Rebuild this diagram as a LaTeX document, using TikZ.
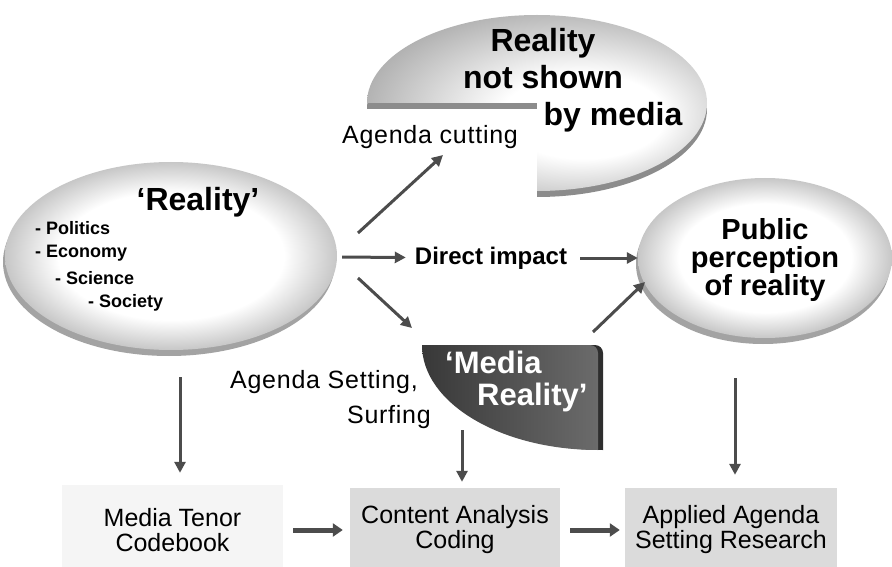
\documentclass[tikz,border=0pt]{standalone}
\usepackage{fontspec}
\setmainfont{Liberation Sans}
\newfontfamily\spaced[LetterSpace=3]{Liberation Sans}
\usetikzlibrary{positioning}
\usetikzlibrary{shapes.geometric,shadows}
\usetikzlibrary{arrows.meta}

% white inside, grey towards the border
\pgfdeclareradialshading{rim}{\pgfpoint{0bp}{0bp}}{color(0bp)=(white); color(17bp)=(white); color(25bp)=(black!22); color(50bp)=(black!22)}
\pgfdeclareradialshading{piefill}{\pgfpoint{9bp}{-5bp}}{color(0bp)=(white); color(12bp)=(white); color(32bp)=(black!35); color(50bp)=(black!35)}

\tikzset{
  flow/.style={->, >={Triangle[length=11pt,width=11pt]}, line width=3pt, draw=black!70},
  fatflow/.style={flow, line width=5pt, >={Triangle[length=10pt,width=13pt]}},
  world/.style={ellipse, shade, shading=rim, inner sep=0,
    drop shadow={shadow xshift=-2pt, shadow yshift=-6pt, fill=black!60, opacity=.6}},
  title/.style={font=\fontsize{32}{37}\selectfont\bfseries, align=center, inner sep=0},
  topic/.style={font=\fontsize{18}{20}\selectfont\bfseries, anchor=west, inner sep=0},
  note/.style={font=\fontsize{25}{35}\selectfont\spaced, inner sep=1pt},
  stage/.style={fill=black!14, align=center, inner sep=0, font=\fontsize{25}{25}\selectfont}
}

\begin{document}
\begin{tikzpicture}[x=1pt, y=-1pt]
	\useasboundingbox[fill=white] (0,0) rectangle (892,567);

	% reality not shown by media: pie with its lower left quarter cut away
	\fill[black!45] (537,109) -- ++(-170,0) arc[start angle=180, end angle=450, x radius=170, y radius=88] -- cycle;
	\shade[shading=piefill] (537,103) -- ++(-170,0) arc[start angle=180, end angle=450, x radius=170, y radius=88] -- cycle;
	\node[title] (hidden) at (543,80) {Reality\\not shown\\\hspace*{140pt}by media};

	% the world and how the public sees it
	\node[world, minimum width=332pt, minimum height=188pt] (reality) at (171,256) {};
	\node[world, minimum width=254pt, minimum height=160pt] (public) at (765,258) {};
	\node[title] (realitytitle) at (198,202) {`Reality'};
	\foreach \txt/\dx [count=\i] in {Politics/35, Economy/35, Science/55, Society/88}
		\node[topic] (topic\i) at (\dx,203+25*\i) {- \txt};
	\node[title, font=\fontsize{29}{28}\selectfont\bfseries] (publictitle) at (765,260) {Public\\perception\\of reality};

	% media reality: the quarter that was cut away
	\fill[black!82] (427,345) [rounded corners=8pt] -- (603,345) -- (603,400) [sharp corners] -- (603,450) arc[start angle=90, end angle=180, x radius=176, y radius=105] -- cycle;
	\shade[left color=black!78, right color=black!58] (422,345) [rounded corners=8pt] -- (598,345) -- (598,400) [sharp corners] -- (598,450) arc[start angle=90, end angle=180, x radius=176, y radius=105] -- cycle;
	\node[title, font=\fontsize{31}{32}\selectfont\bfseries, anchor=west, align=left, text=white] (media) at (445,381) {`Media\\\hspace*{32pt}Reality'};

	% labels on the arrows
	\node[note] (cutting) at (430,137) {Agenda cutting};
	\node[note, font=\fontsize{24}{28}\selectfont\bfseries] (direct) at (491,258) {Direct impact};
	\node[note, anchor=east, align=right] (setting) at (432,400) {Agenda Setting,\hspace*{13pt}\\Surfing};

	% research steps
	\node[stage, fill=black!4, minimum width=221pt, minimum height=90pt] (codebook) at (172.5,530) {Media Tenor\\Codebook};
	\node[stage, minimum width=210pt, minimum height=84pt] (coding) at (455,530) {Content Analysis\\Coding};
	\node[stage, minimum width=212pt, minimum height=84pt] (research) at (731,530) {Applied Agenda\\Setting Research};

	\coordinate (cut-from) at (358,233);
	\coordinate (cut-to) at (443,155);
	\coordinate (set-from) at (358,278);
	\coordinate (set-to) at (412,328);
	\coordinate (perc-from) at (593,332);
	\coordinate (perc-to) at (645,282);
	\coordinate (rf) at (180,377);
	\coordinate (mf) at (462,430);
	\coordinate (pf) at (735,378);

	\draw[flow] (cut-from) -- (cut-to);
	\draw[flow, shorten <=5pt, shorten >=8pt] (reality) -- (direct);
	\draw[flow, shorten <=12pt] (direct) -- (public);
	\draw[flow] (set-from) -- (set-to);
	\draw[flow] (perc-from) -- (perc-to);
	\draw[flow, shorten >=12pt] (rf) -- (rf |- codebook.north);
	\draw[flow, shorten >=6pt] (mf) -- (mf |- coding.north);
	\draw[flow, shorten >=13pt] (pf) -- (pf |- research.north);
	\draw[fatflow, shorten <=10pt, shorten >=7pt] (codebook) -- (coding);
	\draw[fatflow, shorten <=10pt, shorten >=5pt] (coding) -- (research);
\end{tikzpicture}
\end{document}
